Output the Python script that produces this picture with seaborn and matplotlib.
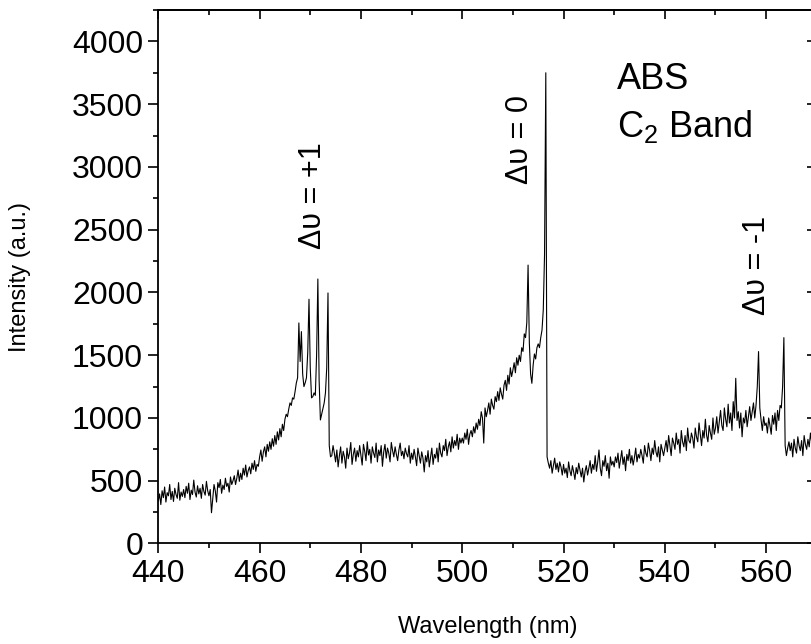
import numpy as np
import pandas as pd
import seaborn as sns
import matplotlib.pyplot as plt
from matplotlib.ticker import MultipleLocator, NullLocator

# spectrum sampled every 0.25 nm starting at 440 nm
wl_start = 440.0
wl_step = 0.25

# 440.00 - 474.75 nm (rows of 5 nm)
counts_440_475 = [
    340, 395, 310, 420, 365, 450, 330, 405, 380, 470, 350, 415, 335, 440, 390, 360, 485, 345, 410, 375,
    430, 365, 455, 400, 480, 350, 425, 390, 505, 410, 370, 460, 395, 440, 360, 470, 415, 385, 495, 420,
    380, 430, 245, 360, 470, 420, 330, 485, 445, 510, 400, 465, 430, 520, 455, 480, 410, 530, 470, 500,
    540, 470, 520, 585, 495, 560, 510, 600, 545, 625, 530, 580, 610, 555, 640, 590, 660, 575, 630, 615,
    690, 745, 655, 730, 770, 690, 790, 735, 810, 750, 835, 775, 860, 790, 890, 825, 915, 850, 950, 900,
    990, 1030, 1010, 1070, 1120, 1100, 1160, 1150, 1210, 1279, 1320, 1757, 1450, 1688, 1350, 1250, 1280, 1320, 1520, 1946,
    1400, 1160, 1170, 1200, 1180, 1500, 2107, 1300, 984, 1030, 1080, 1120, 1200, 1400, 1996, 780, 690, 700, 780, 720,
]

# 475.00 - 514.75 nm
counts_475_515 = [
    650, 745, 610, 700, 770, 640, 735, 690, 600, 760, 675, 720, 805, 630, 710, 760, 655, 740, 690, 780,
    700, 625, 790, 735, 660, 810, 705, 750, 640, 770, 720, 685, 800, 650, 745, 700, 780, 615, 730, 790,
    680, 760, 720, 650, 805, 740, 690, 770, 710, 660, 745, 800, 700, 735, 675, 760, 715, 690, 780, 640,
    720, 670, 750, 690, 620, 760, 700, 640, 730, 680, 570, 700, 650, 740, 610, 690, 760, 630, 710, 680,
    760, 650, 800, 720, 690, 780, 740, 830, 700, 770, 810, 730, 850, 760, 820, 780, 870, 750, 840, 800,
    840, 800, 880, 830, 910, 790, 870, 900, 850, 930, 880, 960, 910, 990, 940, 1050, 1000, 800, 1080, 1010,
    1060, 1120, 1030, 1150, 1100, 1070, 1170, 1130, 1210, 1140, 1240, 1190, 1150, 1260, 1300, 1220, 1340, 1270, 1400, 1330,
    1380, 1440, 1360, 1480, 1420, 1500, 1450, 1560, 1530, 1670, 1640, 1760, 2218, 1600, 1350, 1276, 1420, 1510, 1470, 1560,
]

# 515.00 - 570.00 nm
counts_515_570 = [
    1590, 1560, 1640, 1700, 1860, 2300, 3750, 690, 640, 600, 660, 560, 620, 680, 590, 640, 570, 650, 610, 545,
    630, 560, 600, 525, 650, 580, 540, 620, 570, 510, 605, 555, 640, 585, 530, 600, 490, 575, 620, 545,
    600, 660, 560, 630, 590, 700, 575, 650, 745, 600, 540, 660, 615, 700, 580, 640, 520, 690, 625, 655,
    610, 690, 645, 720, 600, 670, 740, 630, 690, 580, 710, 660, 750, 640, 700, 625, 685, 760, 650, 710,
    680, 750, 700, 640, 780, 720, 690, 800, 740, 660, 760, 710, 820, 730, 690, 770, 650, 790, 745, 700,
    760, 820, 730, 860, 780, 700, 840, 800, 750, 880, 790, 830, 720, 900, 810, 770, 860, 740, 920, 820,
    800, 880, 840, 760, 920, 850, 810, 960, 870, 780, 900, 840, 990, 860, 810, 940, 880, 830, 1000, 870,
    920, 1010, 880, 970, 1060, 940, 900, 1080, 990, 930, 1110, 960, 1040, 900, 1130, 1000, 1316, 980, 1050, 920,
    1040, 850, 1000, 960, 1060, 930, 1010, 1090, 980, 1050, 1120, 1000, 1100, 1250, 1529, 1080, 984, 900, 1010, 940,
    960, 880, 1000, 940, 870, 1020, 950, 1040, 900, 1060, 980, 1100, 1080, 1250, 1640, 780, 700, 760, 810, 740,
    800, 690, 830, 760, 720, 850, 780, 740, 820, 700, 860, 790, 750, 830, 770, 880, 800, 740, 840, 790, 810,
]

band_labels = ["\u0394\u03c5 = +1", "\u0394\u03c5 = 0", "\u0394\u03c5 = -1"]

intensity = counts_440_475 + counts_475_515 + counts_515_570
wavelength = wl_start + wl_step * np.arange(len(intensity))
df = pd.DataFrame({"wavelength": wavelength, "intensity": intensity})

sns.set_style("ticks")
plt.rcParams["font.family"] = ["Liberation Sans", "DejaVu Sans"]
plt.rcParams["mathtext.fontset"] = "custom"
plt.rcParams["mathtext.rm"] = "Liberation Sans"
plt.rcParams["mathtext.it"] = "Liberation Sans:italic"
for key in ["text.color", "axes.labelcolor", "axes.edgecolor", "xtick.color", "ytick.color"]:
    plt.rcParams[key] = "black"

fig = plt.figure(figsize=(8.12, 6.44), dpi=100)
ax = fig.add_axes([0.19495, 0.15606, 0.81096, 0.82842])

sns.lineplot(data=df, x="wavelength", y="intensity", color="black", lw=0.8, ax=ax)

ax.set_xlim(440, 570)
ax.set_ylim(0, 4250)
ax.xaxis.set_major_locator(MultipleLocator(20))
ax.xaxis.set_minor_locator(MultipleLocator(10))
ax.yaxis.set_major_locator(MultipleLocator(500))
ax.yaxis.set_minor_locator(MultipleLocator(250))
ax.tick_params(which="major", direction="out", length=7, width=1.2, labelsize=23, pad=4)
ax.tick_params(which="minor", direction="out", length=3.5, width=1.2)
for s in ax.spines.values():
    s.set_linewidth(1.3)

# mirrored ticks pointing inwards
top = ax.secondary_xaxis("top")
top.xaxis.set_major_locator(MultipleLocator(20))
top.xaxis.set_minor_locator(MultipleLocator(10))
top.tick_params(which="major", direction="in", length=6.5, width=1.2, labeltop=False)
top.tick_params(which="minor", direction="in", length=3.6, width=1.2)
top.spines["top"].set_linewidth(1.3)

right = ax.secondary_yaxis("right")
right.yaxis.set_major_locator(MultipleLocator(500))
right.yaxis.set_minor_locator(NullLocator())
right.tick_params(which="major", direction="in", length=7, width=1.2, labelright=False)
right.spines["right"].set_linewidth(1.3)

ax.set_xlabel("Wavelength (nm)", fontsize=17)
ax.set_ylabel("Intensity (a.u.)", fontsize=17)
ax.xaxis.label.set_va("center")
ax.yaxis.label.set_va("center")
ax.xaxis.set_label_coords(0.5, -0.1565)
ax.yaxis.set_label_coords(-0.210, 0.5)

ax.text(530.6, 3621, "ABS", fontsize=26, va="baseline")
ax.text(530.6, 3239, "C$_2$ Band", fontsize=26, va="baseline")

ax.text(472.1, 2773, band_labels[0], fontsize=22, rotation=90,
        rotation_mode="anchor", ha="center", va="baseline")
ax.text(513.0, 3215, band_labels[1], fontsize=22, rotation=90,
        rotation_mode="anchor", ha="center", va="baseline")
ax.text(559.8, 2215, band_labels[2], fontsize=22, rotation=90,
        rotation_mode="anchor", ha="center", va="baseline")

fig.savefig("out.png", dpi=100)
